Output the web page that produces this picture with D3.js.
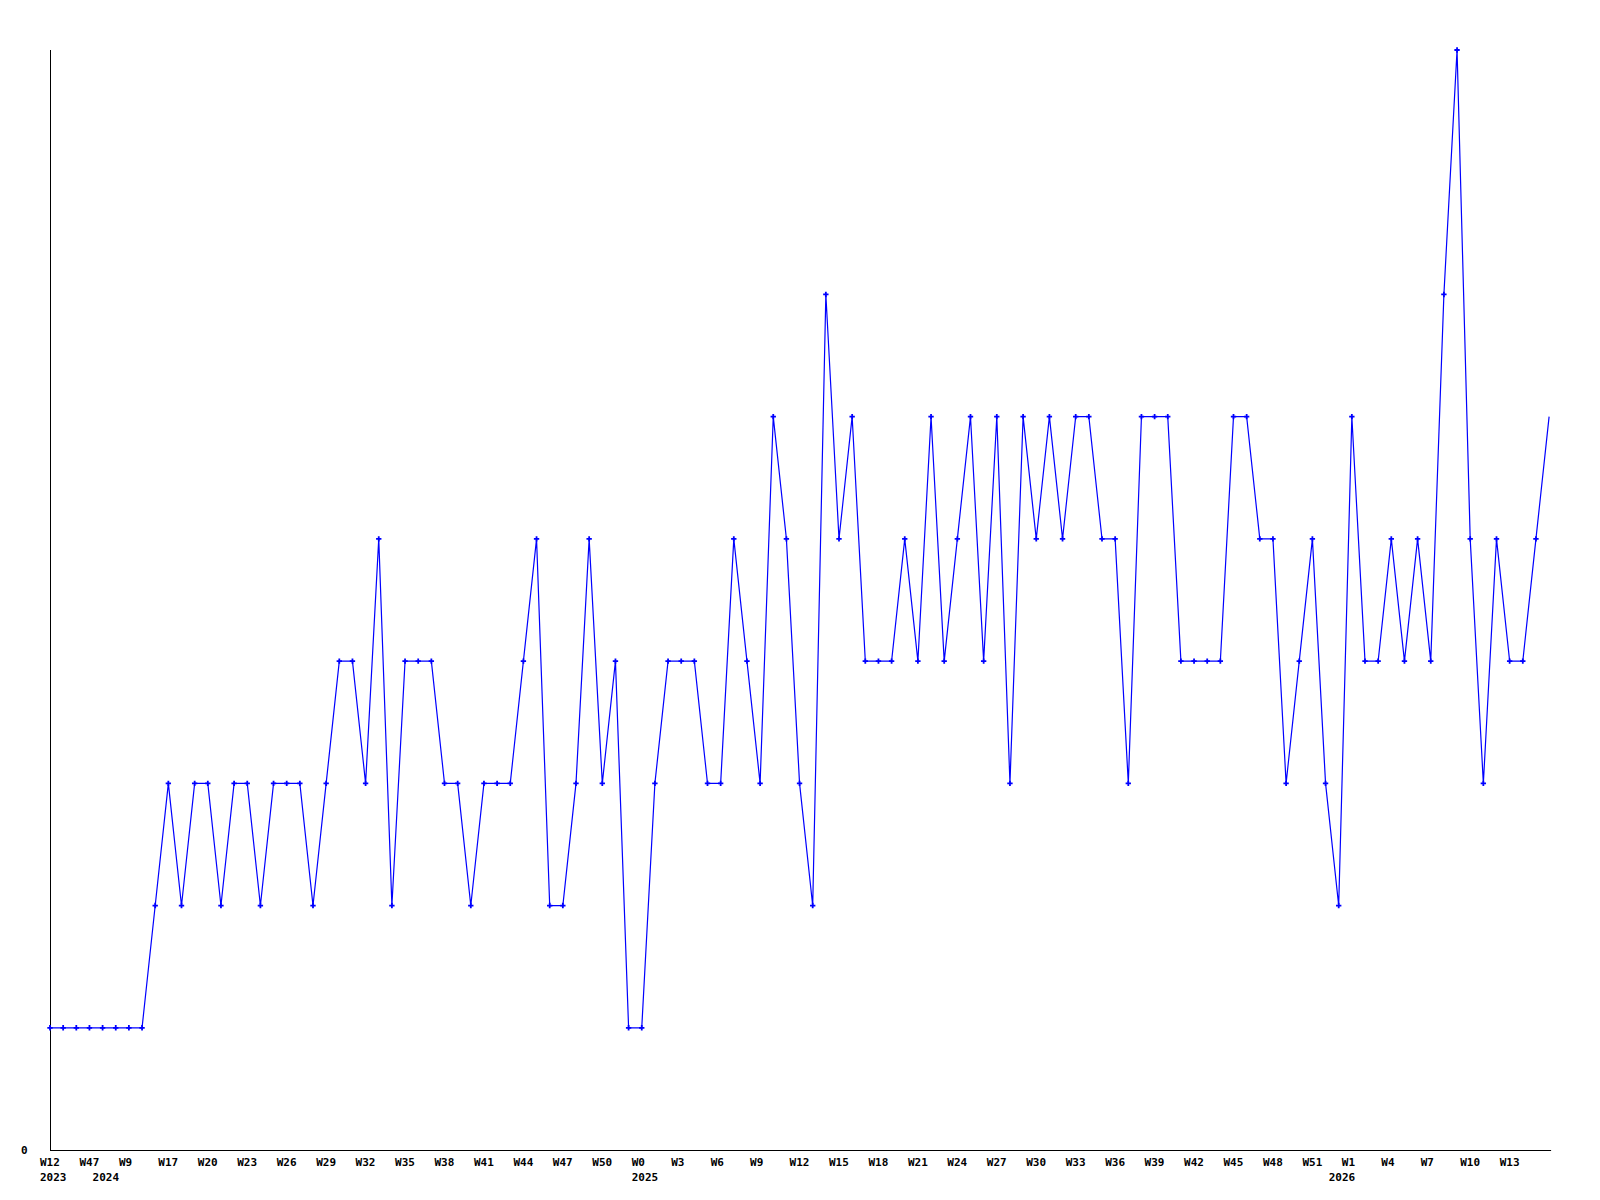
<!DOCTYPE html>
<html>
<head>
<meta charset="utf-8">
<script src="https://cdn.jsdelivr.net/npm/d3@7"></script>
<style>
	html, body { margin: 0; padding: 0; background: #fff; }
	svg { display: block; }
	.lbl { font-family: "DejaVu Sans Mono", monospace; font-weight: bold; font-size: 11px; fill: #000; }
</style>
</head>
<body>
<svg id="chart" width="1600" height="1200"></svg>
<script>
(function (d3) {
	"use strict";

	/***** Data *****/

	// Week of each point (one point per week that has data)
	var weeks = [
		"W12", "W30", "W40", "W47",
		"W2", "W5", "W9", "W14", "W16",
		"W17", "W18", "W19", "W20", "W21", "W22", "W23", "W24", "W25", "W26",
		"W27", "W28", "W29", "W30", "W31", "W32", "W33", "W34", "W35", "W36",
		"W37", "W38", "W39", "W40", "W41", "W42", "W43", "W44", "W45", "W46",
		"W47", "W48", "W49", "W50", "W51", "W52",
		"W0", "W1", "W2", "W3", "W4", "W5", "W6", "W7", "W8", "W9",
		"W10", "W11", "W12", "W13", "W14", "W15", "W16", "W17", "W18", "W19",
		"W20", "W21", "W22", "W23", "W24", "W25", "W26", "W27", "W28", "W29",
		"W30", "W31", "W32", "W33", "W34", "W35", "W36", "W37", "W38", "W39",
		"W40", "W41", "W42", "W43", "W44", "W45", "W46", "W47", "W48", "W49",
		"W50", "W51", "W52",
		"W0", "W1", "W2", "W3", "W4", "W5", "W6", "W7", "W8", "W9",
		"W10", "W11", "W12", "W13", "W14", "W15", "W16"
	];

	// Year of the first week of each year, by point index
	var yearIndex = [0, 4, 45, 98];
	var yearLabels = ["2023", "2024", "2025", "2026"];

	// Weekly counts
	var values = [
		1, 1, 1, 1, 1, 1, 1, 1, 2, 3,
		2, 3, 3, 2, 3, 3, 2, 3, 3, 3,
		2, 3, 4, 4, 3, 5, 2, 4, 4, 4,
		3, 3, 2, 3, 3, 3, 4, 5, 2, 2,
		3, 5, 3, 4, 1, 1, 3, 4, 4, 4,
		3, 3, 5, 4, 3, 6, 5, 3, 2, 7,
		5, 6, 4, 4, 4, 5, 4, 6, 4, 5,
		6, 4, 6, 3, 6, 5, 6, 5, 6, 6,
		5, 5, 3, 6, 6, 6, 4, 4, 4, 4,
		6, 6, 5, 5, 3, 4, 5, 3, 2, 6,
		4, 4, 5, 4, 5, 4, 7, 9, 5, 3,
		5, 4, 4, 5, 6
	];

	// Y axis
	const yMax = 9;
	const yTicks = [0];

	// Every third week gets a label
	const labelStep = 3;

	/***** Layout *****/
	const left = 50;
	const top = 50;
	const bottom = 1150;
	const step = 13.15;
	const right = left + step * (values.length - 1);

	var svg = d3.select("#chart");

	var x = d3.scalePoint()
		.domain(d3.range(values.length))
		.range([left, right]);

	var y = d3.scaleLinear()
		.domain([0, yMax])
		.range([bottom, top]);

	/***** Axes *****/
	svg.append("line")
		.attr("x1", left + 0.5).attr("x2", left + 0.5)
		.attr("y1", top).attr("y2", bottom)
		.attr("stroke", "#000");

	svg.append("line")
		.attr("x1", left).attr("x2", right + 2)
		.attr("y1", bottom + 0.5).attr("y2", bottom + 0.5)
		.attr("stroke", "#000");

	// Y tick labels
	svg.selectAll("text.ylbl")
		.data(yTicks)
		.enter().append("text")
		.attr("class", "lbl ylbl")
		.attr("x", left - 29)
		.attr("y", function (d) { return y(d) + 4; })
		.text(function (d) { return d; });

	// Week labels (none on the last point, it sits on the edge)
	var labelIdx = d3.range(0, values.length - 1, labelStep);
	svg.selectAll("text.wlbl")
		.data(labelIdx)
		.enter().append("text")
		.attr("class", "lbl wlbl")
		.attr("x", function (i) { return x(i) - 10; })
		.attr("y", bottom + 16)
		.text(function (i) { return weeks[i]; });

	// Year labels
	svg.selectAll("text.ylab")
		.data(yearIndex)
		.enter().append("text")
		.attr("class", "lbl ylab")
		.attr("x", function (i) { return x(i) - 10; })
		.attr("y", bottom + 31)
		.text(function (i, k) { return yearLabels[k]; });

	/***** Series *****/
	var line = d3.line()
		.x(function (d, i) { return x(i); })
		.y(function (d) { return y(d); });

	svg.append("path")
		.datum(values)
		.attr("d", line)
		.attr("fill", "none")
		.attr("stroke", "#0000ff")
		.attr("stroke-width", 1.2);

	// Point markers (the last one falls on the plot edge and is not drawn)
	var marker = d3.symbol().type(d3.symbolCross).size(16);
	svg.selectAll("path.pt")
		.data(values.slice(0, values.length - 1))
		.enter().append("path")
		.attr("class", "pt")
		.attr("d", marker)
		.attr("fill", "#0000ff")
		.attr("transform", function (d, i) { return "translate(" + x(i) + "," + y(d) + ")"; });

})(d3);
</script>
</body>
</html>
